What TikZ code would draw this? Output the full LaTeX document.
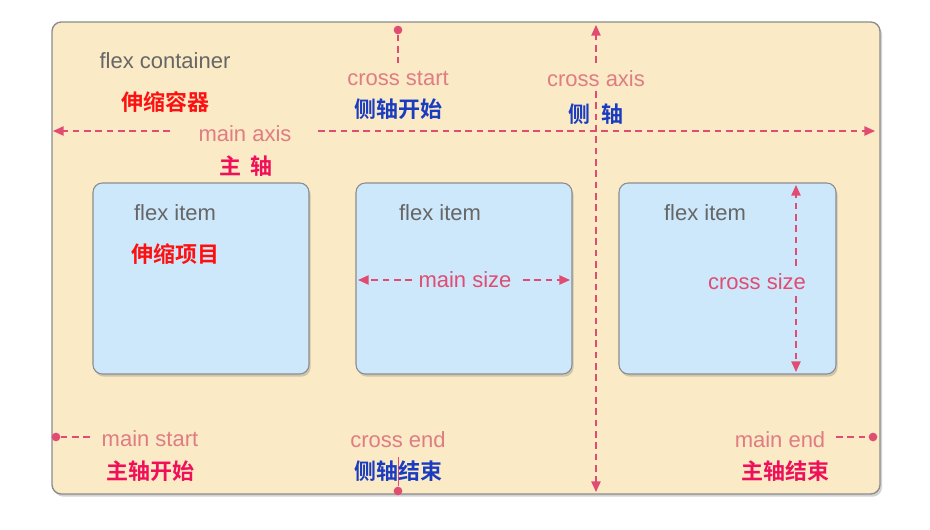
\documentclass[tikz,border=0pt]{standalone}
\usepackage{fontspec}
\setmainfont{Liberation Sans}
\newfontfamily\cjk{Noto Sans CJK SC Bold}
\usetikzlibrary{shadows,arrows.meta}
\definecolor{bgbeige}{HTML}{FAEAC6}
\definecolor{itemblue}{HTML}{CDE8FB}
\definecolor{edgegray}{HTML}{8C8C8C}
\definecolor{labpink}{HTML}{E07C84}
\definecolor{linepink}{HTML}{E04C72}
\definecolor{txtgray}{HTML}{666666}
\definecolor{cnred}{HTML}{FF1010}
\definecolor{cnmag}{HTML}{F0105A}
\definecolor{cnblue}{HTML}{1A3CC0}
\tikzset{
  container/.style={draw=edgegray, line width=1pt, fill=bgbeige, rounded corners=7pt,
    drop shadow={opacity=0.35, shadow xshift=1.5pt, shadow yshift=-2pt}},
  itembox/.style={draw=edgegray, line width=0.8pt, fill=itemblue, rounded corners=7pt,
    drop shadow={opacity=0.35, shadow xshift=1.2pt, shadow yshift=-2pt}},
  lab/.style={text=labpink, font=\fontsize{16.5}{18}\selectfont, inner sep=1pt},
  sizelab/.style={text=linepink, font=\fontsize{16.5}{18}\selectfont, inner sep=1pt},
  graylab/.style={text=txtgray, font=\fontsize{16.5}{18}\selectfont, inner sep=1pt},
  cnlab/.style={font=\cjk\fontsize{16.5}{18}\selectfont, inner sep=1pt},
  axisline/.style={draw=linepink, line width=1.1pt, dash pattern=on 5pt off 3.5pt},
  tipend/.style={-{Triangle[length=8pt,width=7pt]}},
  dotnode/.style={circle, fill=linepink, inner sep=0pt, minimum size=6.5pt},
}
\begin{document}
\begin{tikzpicture}[x=0.75pt,y=-0.75pt]
\useasboundingbox (0,0) rectangle (930,530);
\fill[white] (0,0) rectangle (930,530);
% container
\path[container] (52,22) rectangle (880,494);
% items
\path[itembox] (93,183) rectangle (309,374);
\path[itembox] (356,183) rectangle (572,374);
\path[itembox] (619,183) rectangle (836,374);

% cross end short line (drawn under text)
\node[dotnode] (cedot) at (398,491) {};
\coordinate (ces) at (398,457);
\draw[draw=linepink, line width=0.6pt] (ces) -- (cedot);

% texts
\node[graylab] (fc) at (165,61) {flex container};
\node[cnlab, text=cnred] (fccn) at (165,102) {伸缩容器};
\node[lab] (ma) at (245,134) {main axis};
\node[cnlab, text=cnmag] (macn) at (246,166) {主\hspace{0.45em}轴};
\node[lab] (cs) at (398,79) {cross start};
\node[cnlab, text=cnblue] (cscn) at (398,109) {侧轴开始};
\node[lab] (ca) at (596,79) {cross axis};
\node[cnlab, text=cnblue] (cacn) at (596,114) {侧\hspace{0.5em}轴};
\node[lab] (ms) at (150,439) {main start};
\node[cnlab, text=cnmag] (mscn) at (150,471) {主轴开始};
\node[lab] (ce) at (398,440) {cross end};
\node[cnlab, text=cnblue] (cecn) at (398,471) {侧轴结束};
\node[lab] (me) at (780,440) {main end};
\node[cnlab, text=cnmag] (mecn) at (785,471) {主轴结束};

\node[graylab] (fi1) at (175,213) {flex item};
\node[cnlab, text=cnred] (fi1cn) at (175,254) {伸缩项目};
\node[graylab] (fi2) at (440,213) {flex item};
\node[graylab] (fi3) at (705,213) {flex item};
\node[sizelab] (msz) at (465,280) {main size};
\node[sizelab] (csz) at (757,282) {cross size};

% main axis
\coordinate (maL) at (53,131);
\coordinate (maLe) at (170,131);
\coordinate (maRs) at (318,131);
\coordinate (maR) at (875,131);
\draw[axisline, tipend] (maLe) -- (maL);
\draw[axisline, tipend] (maRs) -- (maR);

% cross axis
\coordinate (caT) at (596,25);
\coordinate (caTe) at (596,63);
\coordinate (caBs) at (596,91);
\coordinate (caB) at (596,492);
\draw[axisline, tipend] (caTe) -- (caT);
\draw[axisline, tipend] (caBs) -- (caB);

% cross start
\node[dotnode] (csdot) at (398,30) {};
\coordinate (cse) at (398,63);
\draw[axisline] (csdot) -- (cse);

% main start
\node[dotnode] (msdot) at (56,437) {};
\coordinate (mse) at (92,437);
\draw[axisline] (msdot) -- (mse);

% main end
\node[dotnode] (medot) at (873,437) {};
\coordinate (mes) at (836,437);
\draw[axisline] (mes) -- (medot);

% main size
\coordinate (mszL) at (358,280);
\coordinate (mszR) at (570,280);
\coordinate (mszLe) at (412,280);
\coordinate (mszRs) at (523,280);
\draw[axisline, tipend] (mszLe) -- (mszL);
\draw[axisline, tipend] (mszRs) -- (mszR);

% cross size
\coordinate (cszT) at (796,185);
\coordinate (cszB) at (796,372);
\coordinate (cszTe) at (796,266);
\coordinate (cszBs) at (796,296);
\draw[axisline, tipend] (cszTe) -- (cszT);
\draw[axisline, tipend] (cszBs) -- (cszB);
\end{tikzpicture}
\end{document}
